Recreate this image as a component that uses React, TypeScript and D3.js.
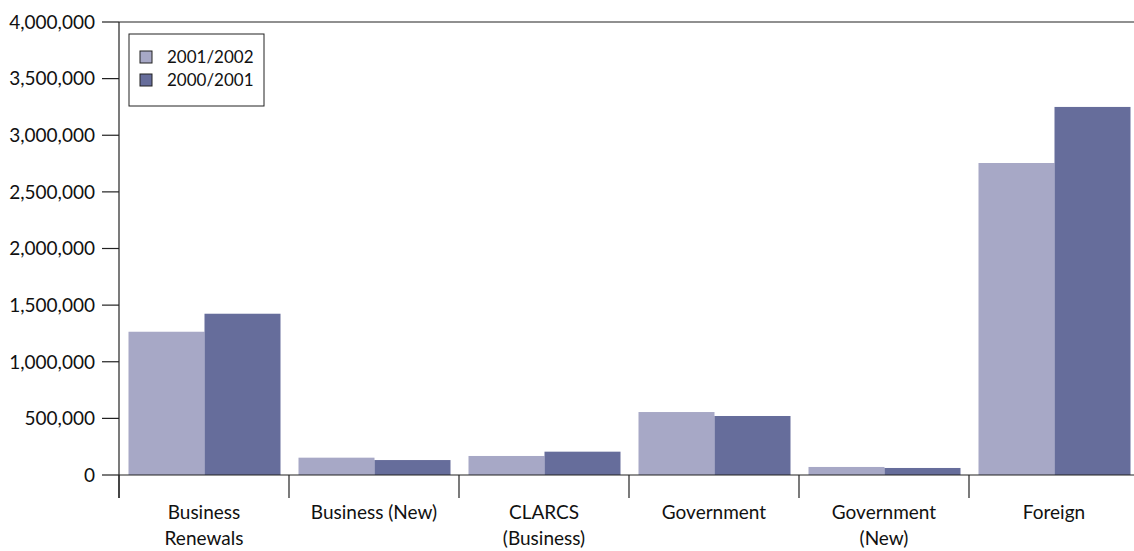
import React from "react";
import * as d3 from "d3";

const categories = [
  ["Business", "Renewals"],
  ["Business (New)"],
  ["CLARCS", "(Business)"],
  ["Government"],
  ["Government", "(New)"],
  ["Foreign"],
];
const seriesNames = ["2001/2002", "2000/2001"];
const values2001_2002 = [1265000, 153000, 168000, 556000, 71000, 2755000];
const values2000_2001 = [1424000, 132000, 206000, 521000, 62000, 3250000];
const yTicks = [0, 500000, 1000000, 1500000, 2000000, 2500000, 3000000, 3500000, 4000000];
const colors = ["#a7a8c6", "#666d9b"];

const W = 1134;
const H = 551;
const FONT = "Lato, 'Open Sans', sans-serif";

export default function App() {
  const keys = categories.map((c) => c.join(" "));
  const x0 = d3.scaleBand<string>().domain(keys).range([119, 1139]).paddingInner(0).paddingOuter(0);
  const bw = x0.bandwidth();
  const x1 = d3.scaleBand<string>().domain(seriesNames).range([9.5, bw - 8.5]).padding(0);
  const y = d3.scaleLinear().domain([0, 4000000]).range([475, 22]);
  const fmt = d3.format(",");
  const series = [values2001_2002, values2000_2001];

  return (
    <svg width={W} height={H} style={{ position: "absolute", left: 0, top: 0, background: "#fff" }} fontFamily={FONT}>
      {keys.map((k, i) => (
        <g key={k} transform={`translate(${x0(k)},0)`}>
          {seriesNames.map((s, j) => (
            <rect
              key={s}
              x={x1(s)}
              y={y(series[j][i])}
              width={x1.bandwidth()}
              height={y(0) - y(series[j][i])}
              fill={colors[j]}
            />
          ))}
        </g>
      ))}
      <line x1={119} x2={W} y1={y(4000000)} y2={y(4000000)} stroke="#222" strokeWidth={1.2} />
      <line x1={119} x2={119} y1={y(4000000)} y2={498} stroke="#222" strokeWidth={1.2} />
      {yTicks.map((t) => (
        <g key={t}>
          <line x1={102} x2={119} y1={y(t)} y2={y(t)} stroke="#222" strokeWidth={1.2} />
          <text x={95} y={y(t)} dy="0.36em" textAnchor="end" fontSize={19} fill="#111">
            {fmt(t)}
          </text>
        </g>
      ))}
      <line x1={119} x2={W} y1={y(0)} y2={y(0)} stroke="#222" strokeWidth={1.2} />
      {keys.map((k) => (
        <line key={k} x1={x0(k)!} x2={x0(k)!} y1={y(0)} y2={498} stroke="#222" strokeWidth={1.2} />
      ))}
      {categories.map((lines, i) => (
        <text key={i} textAnchor="middle" fontSize={19} fill="#111">
          {lines.map((l, li) => (
            <tspan key={li} x={x0(keys[i])! + bw / 2} y={519 + li * 26}>
              {l}
            </tspan>
          ))}
        </text>
      ))}
      <rect x={129} y={34} width={135} height={72} fill="#fff" stroke="#222" strokeWidth={1} />
      {seriesNames.map((s, j) => (
        <g key={s}>
          <rect x={140} y={51 + j * 23} width={12} height={12} fill={colors[j]} stroke="#222" strokeWidth={1} />
          <text x={167} y={63 + j * 23} fontSize={17} fill="#111">
            {s}
          </text>
        </g>
      ))}
    </svg>
  );
}
